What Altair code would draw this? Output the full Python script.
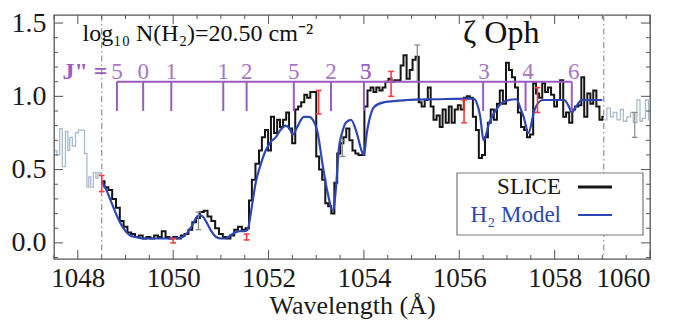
import altair as alt
import pandas as pd

SERIF = "Liberation Serif"

# ---------------- data ----------------
slice_wl = [1048.52, 1048.60, 1048.68, 1048.76, 1048.84, 1048.92, 1049.00, 1049.08, 1049.16, 1049.24,
            1049.32, 1049.40, 1049.48, 1049.56, 1049.64, 1049.72, 1049.80, 1049.88, 1049.96, 1050.04,
            1050.12, 1050.20, 1050.28, 1050.36, 1050.44, 1050.52, 1050.60, 1050.68, 1050.76, 1050.84,
            1050.92, 1051.00, 1051.08, 1051.16, 1051.24, 1051.32, 1051.40, 1051.48, 1051.56,
            1051.62, 1051.68, 1051.77, 1051.83, 1051.89, 1051.96, 1052.02, 1052.08, 1052.15, 1052.21,
            1052.27, 1052.34, 1052.40, 1052.46, 1052.53, 1052.59, 1052.65, 1052.72, 1052.78, 1052.84,
            1052.91, 1052.97, 1053.03, 1053.09, 1053.16, 1053.22, 1053.28, 1053.35, 1053.41, 1053.47,
            1053.54, 1053.60, 1053.66, 1053.73, 1053.79, 1053.85, 1053.92, 1053.98, 1054.04, 1054.11,
            1054.17, 1054.23, 1054.29, 1054.36, 1054.42, 1054.48, 1054.55, 1054.61, 1054.67, 1054.74,
            1054.80, 1054.86, 1054.93, 1054.99, 1055.05, 1055.12, 1055.18, 1055.24, 1055.31, 1055.37,
            1055.43, 1055.49, 1055.56, 1055.62, 1055.68, 1055.75, 1055.81, 1055.87, 1055.94, 1056.00,
            1056.06, 1056.13, 1056.19, 1056.25, 1056.32, 1056.38, 1056.44, 1056.51, 1056.57, 1056.63,
            1056.69, 1056.76, 1056.82, 1056.88, 1056.95, 1057.01, 1057.07, 1057.14, 1057.20, 1057.26,
            1057.33, 1057.39, 1057.45, 1057.52, 1057.58, 1057.64, 1057.71, 1057.77, 1057.83, 1057.89,
            1057.96, 1058.02, 1058.08, 1058.15, 1058.21, 1058.27, 1058.34, 1058.40, 1058.46, 1058.53,
            1058.59, 1058.65, 1058.72, 1058.78, 1058.84, 1058.91, 1058.97, 1059.03]
slice_flux = [0.42, 0.38, 0.36, 0.30, 0.24, 0.15, 0.11, 0.07, 0.06, 0.04,
              0.05, 0.03, 0.04, 0.03, 0.05, 0.04, 0.08, 0.04, 0.03, 0.04,
              0.03, 0.05, 0.06, 0.09, 0.14, 0.17, 0.21, 0.22, 0.18, 0.15,
              0.10, 0.06, 0.04, 0.03, 0.05, 0.09, 0.11, 0.09, 0.10,
              0.29, 0.43, 0.54, 0.63, 0.72, 0.77, 0.63, 0.86, 0.75, 0.84,
              0.79, 0.84, 0.89, 0.78, 0.68, 0.91, 0.93, 0.96, 1.01, 0.99,
              1.03, 1.03, 0.59, 0.50, 0.43, 0.27, 0.25, 0.20, 0.41, 0.61,
              0.68, 0.72, 0.78, 0.70, 0.63, 0.61, 0.60, 0.60, 0.93, 1.04,
              1.06, 1.03, 1.06, 1.04, 1.06, 1.10, 1.12, 1.10, 1.11, 1.11,
              1.21, 1.28, 1.12, 1.18, 1.25, 1.27, 0.96, 0.93, 0.975, 1.06,
              0.93, 0.84, 0.87, 0.79, 0.91, 0.82, 0.93, 0.82, 0.91, 0.94,
              0.91, 0.99, 1.00, 0.99, 0.86, 0.77, 0.58, 0.60, 0.72, 0.82,
              0.91, 0.84, 0.95, 1.04, 0.95, 1.23, 1.18, 1.13, 1.06, 0.89,
              0.79, 0.77, 0.72, 0.74, 1.09, 1.02, 0.99, 1.09, 1.03, 1.06,
              1.01, 0.93, 0.975, 1.11, 0.86, 0.89, 0.82, 0.91, 0.93, 0.94,
              1.13, 0.86, 1.02, 0.95, 1.04, 0.93, 0.84, 0.86]

model_wl = [1048.50, 1048.60, 1048.70, 1048.80, 1048.90, 1049.00, 1049.10, 1049.20, 1049.40, 1049.70,
            1050.00, 1050.20, 1050.30, 1050.40, 1050.50, 1050.55, 1050.62, 1050.70, 1050.80, 1050.90,
            1051.00, 1051.10, 1051.20, 1051.30, 1051.40, 1051.50, 1051.56, 1051.65, 1051.73, 1051.83,
            1051.94, 1052.05, 1052.15, 1052.25, 1052.36, 1052.44, 1052.51, 1052.60, 1052.74, 1052.85,
            1052.93, 1053.03, 1053.14, 1053.24, 1053.35, 1053.42, 1053.47, 1053.55, 1053.62, 1053.73,
            1053.85, 1053.95, 1054.00, 1054.06, 1054.10, 1054.22, 1054.43, 1054.90, 1055.50, 1056.30,
            1056.40, 1056.44, 1056.51, 1056.63, 1056.82, 1056.98, 1057.20, 1057.28, 1057.35, 1057.45,
            1057.58, 1057.75, 1058.20, 1058.30, 1058.36, 1058.45, 1058.57, 1059.00]
model_flux = [0.42, 0.36, 0.28, 0.20, 0.13, 0.08, 0.05, 0.04, 0.03, 0.03,
              0.03, 0.04, 0.07, 0.12, 0.18, 0.19, 0.18, 0.14, 0.08, 0.04,
              0.03, 0.03, 0.05, 0.07, 0.08, 0.08, 0.09, 0.25, 0.41, 0.53,
              0.63, 0.69, 0.72, 0.77, 0.80, 0.78, 0.74, 0.79, 0.86, 0.86,
              0.84, 0.75, 0.52, 0.34, 0.22, 0.40, 0.63, 0.76, 0.82, 0.84,
              0.75, 0.63, 0.60, 0.75, 0.82, 0.93, 0.96, 0.975, 0.98, 0.985,
              0.92, 0.86, 0.70, 0.82, 0.93, 0.97, 0.98, 0.92, 0.86, 0.75,
              0.91, 0.975, 0.975, 0.93, 0.89, 0.93, 0.975, 0.975]

left_wl = [1047.52, 1047.60, 1047.64, 1047.71, 1047.77, 1047.81, 1047.85, 1047.92, 1047.98, 1048.04,
           1048.11, 1048.17, 1048.21, 1048.25, 1048.29, 1048.36, 1048.40, 1048.44, 1048.50]
left_flux = [0.63, 0.60, 0.78, 0.52, 0.76, 0.63, 0.72, 0.66, 0.75, 0.77,
             0.77, 0.61, 0.38, 0.45, 0.38, 0.48, 0.44, 0.48, 0.47]
right_wl = [1059.05, 1059.14, 1059.20, 1059.26, 1059.35, 1059.41, 1059.47, 1059.56, 1059.62, 1059.68,
            1059.77, 1059.81, 1059.87, 1059.94, 1060.00]
right_flux = [0.84, 0.92, 0.86, 0.89, 0.84, 0.91, 0.83, 0.86, 0.89, 0.82,
              0.975, 0.83, 0.85, 0.975, 0.84]

red_err_wl = [1048.50, 1050.00, 1051.54, 1053.05, 1054.57, 1056.10, 1057.64]
red_err_lo = [0.35, 0.00, 0.02, 0.88, 1.00, 0.82, 0.89]
red_err_hi = [0.46, 0.03, 0.06, 1.04, 1.17, 0.975, 1.06]

grey_err_wl = [1050.53, 1053.55, 1055.12]
grey_err_lo = [0.09, 0.59, 1.10]
grey_err_hi = [0.21, 0.70, 1.35]
lgrey_err_wl = [1059.68]
lgrey_err_lo = [0.72]
lgrey_err_hi = [0.89]

edge_wl = [1048.50, 1059.03]

j_wl = [1048.82, 1049.37, 1049.96, 1051.05, 1051.54, 1052.53, 1053.31, 1054.00, 1056.50, 1057.39, 1058.36]
j_label_wl = [1048.82, 1049.37, 1049.96, 1051.05, 1051.54, 1052.53, 1053.31, 1054.04, 1054.04, 1056.52, 1057.44, 1058.40]
j_labels = ["5", "0", "1", "1", "2", "5", "2", "5", "3", "3", "4", "6"]
j_bar_top = 1.10
j_bar_bottom = 0.90
j_label_y = 1.165

x_major = [1048, 1050, 1052, 1054, 1056, 1058, 1060]
x_minor = [1047.5 + 0.5 * i for i in range(26) if (1047.5 + 0.5 * i) not in x_major]
y_major = [0.0, 0.5, 1.0, 1.5]
y_minor = [round(-0.1 + 0.1 * i, 2) for i in range(17) if round(-0.1 + 0.1 * i, 2) not in y_major]

# ---------------- styling ----------------
W, H = 596, 244
XS = alt.Scale(domain=[1047.5, 1060.0], nice=False, zero=False)
YS = alt.Scale(domain=[-0.11, 1.555], nice=False, zero=False)
XA = alt.Axis(values=x_major, format="d", title="Wavelength (Å)", ticks=False, domain=False, grid=False,
              labelFont=SERIF, labelFontSize=27, labelColor="#1a1a1a", labelPadding=6,
              titleFont=SERIF, titleFontSize=26, titleFontWeight="normal", titleColor="#1a1a1a", titlePadding=1)
YA = alt.Axis(values=y_major, format=".1f", title=None, ticks=False, domain=False, grid=False,
              labelFont=SERIF, labelFontSize=28, labelColor="#1a1a1a", labelPadding=8)


def X(f):
    return alt.X(f, type="quantitative", scale=XS, axis=XA)


def Y(f):
    return alt.Y(f, type="quantitative", scale=YS, axis=YA)


PURPLE = "#9b5cc0"
BLUE = "#2c47b5"
RED = "#ff3b3b"
TICK = "#555555"

slice_df = pd.DataFrame({"wl": slice_wl, "f": slice_flux})
model_df = pd.DataFrame({"wl": model_wl, "f": model_flux})
left_df = pd.DataFrame({"wl": left_wl, "f": left_flux})
right_df = pd.DataFrame({"wl": right_wl, "f": right_flux})
edge_df = pd.DataFrame({"wl": edge_wl})

layers = []

# dash-dot boundaries
layers.append(alt.Chart(edge_df).mark_rule(color="#9a9a9a", strokeWidth=1.3, strokeDash=[6, 3, 1.5, 3])
              .encode(x=X("wl")))

# out-of-window spectrum
for d in (left_df, right_df):
    layers.append(alt.Chart(d).mark_line(interpolate="step", color="#a9bccd", strokeWidth=1.3)
                  .encode(x=X("wl"), y=Y("f")))

# SLICE data
layers.append(alt.Chart(slice_df).mark_line(interpolate="step", color="#151515", strokeWidth=2.0)
              .encode(x=X("wl"), y=Y("f")))

# H2 model
layers.append(alt.Chart(model_df).mark_line(interpolate="monotone", color=BLUE, strokeWidth=2.2)
              .encode(x=X("wl"), y=Y("f")))


def errbars(wl, lo, hi, color, width):
    d = pd.DataFrame({"wl": wl, "lo": lo, "hi": hi})
    d["a"] = d["wl"] - 0.06
    d["b"] = d["wl"] + 0.06
    out = [alt.Chart(d).mark_rule(color=color, strokeWidth=width).encode(x=X("wl"), y=Y("lo"), y2="hi")]
    for end in ("lo", "hi"):
        out.append(alt.Chart(d).mark_rule(color=color, strokeWidth=width).encode(x=X("a"), x2="b", y=Y(end)))
    return out


layers += errbars(grey_err_wl, grey_err_lo, grey_err_hi, "#8a8a8a", 1.3)
layers += errbars(lgrey_err_wl, lgrey_err_lo, lgrey_err_hi, "#8a8a8a", 1.2)
layers += errbars(red_err_wl, red_err_lo, red_err_hi, RED, 1.6)

# J'' ladder
jb = pd.DataFrame({"a": [min(j_wl)], "b": [max(j_wl)], "y": [j_bar_top]})
layers.append(alt.Chart(jb).mark_rule(color=PURPLE, strokeWidth=2).encode(x=X("a"), x2="b", y=Y("y")))
jt = pd.DataFrame({"wl": j_wl, "lo": [j_bar_bottom] * len(j_wl), "hi": [j_bar_top] * len(j_wl)})
layers.append(alt.Chart(jt).mark_rule(color=PURPLE, strokeWidth=2).encode(x=X("wl"), y=Y("lo"), y2="hi"))
jl = pd.DataFrame({"wl": j_label_wl, "y": [j_label_y] * len(j_label_wl), "t": j_labels})
layers.append(alt.Chart(jl).mark_text(color=PURPLE, font=SERIF, fontSize=23, align="center", baseline="middle",
                                      opacity=0.85)
              .encode(x=X("wl"), y=Y("y"), text="t"))

# annotations
ann = pd.DataFrame({"wl": [1048.15], "y": [1.165], "t": ['J" =']})
layers.append(alt.Chart(ann).mark_text(color=PURPLE, font=SERIF, fontSize=24, fontWeight="bold",
                                       align="center", baseline="middle")
              .encode(x=X("wl"), y=Y("y"), text="t"))
ann2 = pd.DataFrame({"wl": [1048.1], "y": [1.425], "t": ["log₁₀ N(H₂)=20.50 cm⁻²"]})
layers.append(alt.Chart(ann2).mark_text(color="#111", font=SERIF, fontSize=24, align="left", baseline="middle")
              .encode(x=X("wl"), y=Y("y"), text="t"))
ann3 = pd.DataFrame({"wl": [1056.88], "y": [1.43], "t": ["ζ Oph"]})
layers.append(alt.Chart(ann3).mark_text(color="#111", font=SERIF, fontSize=32, align="center", baseline="middle")
              .encode(x=X("wl"), y=Y("y"), text="t"))

# frame ticks (inward)
def xticks(vals, L):
    d = pd.DataFrame({"v": vals})
    return [alt.Chart(d).mark_rule(color=TICK, strokeWidth=1).encode(x=X("v"), y=alt.value(H), y2=alt.value(H - L)),
            alt.Chart(d).mark_rule(color=TICK, strokeWidth=1).encode(x=X("v"), y=alt.value(0), y2=alt.value(L))]


def yticks(vals, L):
    d = pd.DataFrame({"v": vals})
    return [alt.Chart(d).mark_rule(color=TICK, strokeWidth=1).encode(y=Y("v"), x=alt.value(0), x2=alt.value(L)),
            alt.Chart(d).mark_rule(color=TICK, strokeWidth=1).encode(y=Y("v"), x=alt.value(W), x2=alt.value(W - L))]


layers += xticks(x_major, 9) + xticks(x_minor, 4) + yticks(y_major, 9) + yticks(y_minor, 4)

# legend box
leg_names = ["SLICE", "H₂ Model"]
leg_colors = ["#151515", BLUE]
layers.append(alt.Chart(pd.DataFrame({"k": [0]})).mark_rect(fill="white", stroke="#777", strokeWidth=1.2)
              .encode(x=alt.value(403), x2=alt.value(589), y=alt.value(158), y2=alt.value(220)))
for i, (n, c) in enumerate(zip(leg_names, leg_colors)):
    dd = pd.DataFrame({"t": [n]})
    yy = 172 + 28 * i
    layers.append(alt.Chart(dd).mark_text(color=c, font=SERIF, fontSize=23, align="right", baseline="middle")
                  .encode(text="t", x=alt.value(507), y=alt.value(yy)))
    layers.append(alt.Chart(dd).mark_rule(color=c, strokeWidth=2.8 if i == 0 else 2.2)
                  .encode(x=alt.value(524), x2=alt.value(558), y=alt.value(yy)))

chart = alt.layer(*layers).properties(
    width=W, height=H,
    autosize=alt.AutoSizeParams(type="none"),
    padding={"left": 46, "top": 7, "right": 15, "bottom": 63},
).configure_view(stroke="#555", strokeWidth=1.3).configure_axis(
    labelFont=SERIF, titleFont=SERIF
).configure_text(font=SERIF)

chart.save("out.html", embed_options={"renderer": "svg", "actions": False})
